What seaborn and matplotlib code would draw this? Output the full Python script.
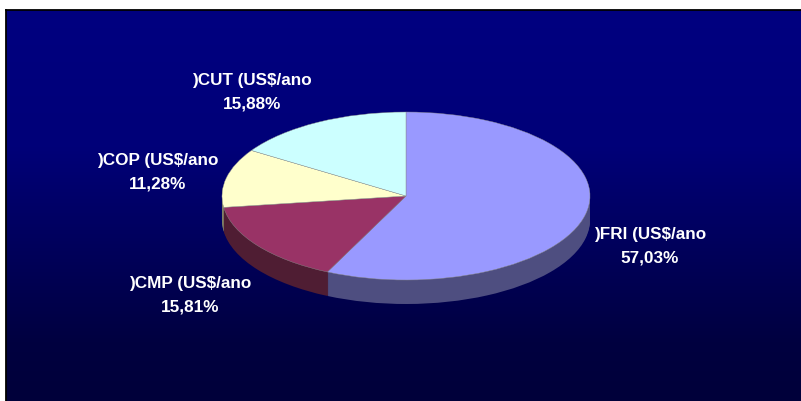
import numpy as np
import matplotlib
matplotlib.use("Agg")
import matplotlib.pyplot as plt
from matplotlib.colors import LinearSegmentedColormap
import seaborn as sns

categories = [")FRI (US$/ano", ")CMP (US$/ano", ")COP (US$/ano", ")CUT (US$/ano"]
shares = [57.03, 15.81, 11.28, 15.88]
share_labels = ["57,03%", "15,81%", "11,28%", "15,88%"]
top_colors = ["#9999FF", "#993366", "#FFFFCC", "#CCFFFF"]
side_colors = ["#4E4E80", "#4F1D33", "#808066", "#668080"]
label_px = [(650, 246), (190.5, 295), (158, 172), (252, 92)]

sns.set_theme(style="white")
W, H = 801, 401
fig = plt.figure(figsize=(W / 100, H / 100), dpi=100, facecolor="white")

# panel with vertical gradient
L, T = 6, 10
bg = fig.add_axes([L / W, 0, (W - L) / W, (H - T) / H])
cmap = LinearSegmentedColormap.from_list("g", [(0, "#000080"), (0.35, "#000078"), (0.85, "#000040"), (1, "#00003A")])
bg.imshow(np.linspace(0, 1, 256)[:, None], aspect="auto", cmap=cmap, vmin=0, vmax=1)
bg.set_xticks([]); bg.set_yticks([])
for s, sp in bg.spines.items():
    sp.set_visible(s in ("top", "left"))
    sp.set_color("black"); sp.set_linewidth(1.3)

# squashed pie: 1 unit = 184 px in x and 84 px in y
cx, cy, rx, ry, depth = 406, 196, 184, 84, 24
ax = fig.add_axes([0, 0, 1, 1])
ax.patch.set_alpha(0)
for dy in range(depth, 0, -1):
    ax.pie(shares, colors=side_colors, startangle=90, counterclock=False,
           center=(0, -dy / ry), wedgeprops=dict(linewidth=0))
ax.pie(shares, colors=top_colors, startangle=90, counterclock=False,
       wedgeprops=dict(linewidth=0.3, edgecolor="#8a8a8a"))
ax.set_aspect("auto")
ax.set_xlim(-cx / rx, (W - cx) / rx)
ax.set_ylim(-(H - cy) / ry, cy / ry)
ax.axis("off")

for cat, lab, (px, py) in zip(categories, share_labels, label_px):
    fig.text(px / W, 1 - py / H, f"{cat}\n{lab}", color="white", ha="center", va="center",
             fontsize=12.3, fontweight="bold", family="Liberation Sans", linespacing=1.68)

fig.savefig("out.png", dpi=100)
